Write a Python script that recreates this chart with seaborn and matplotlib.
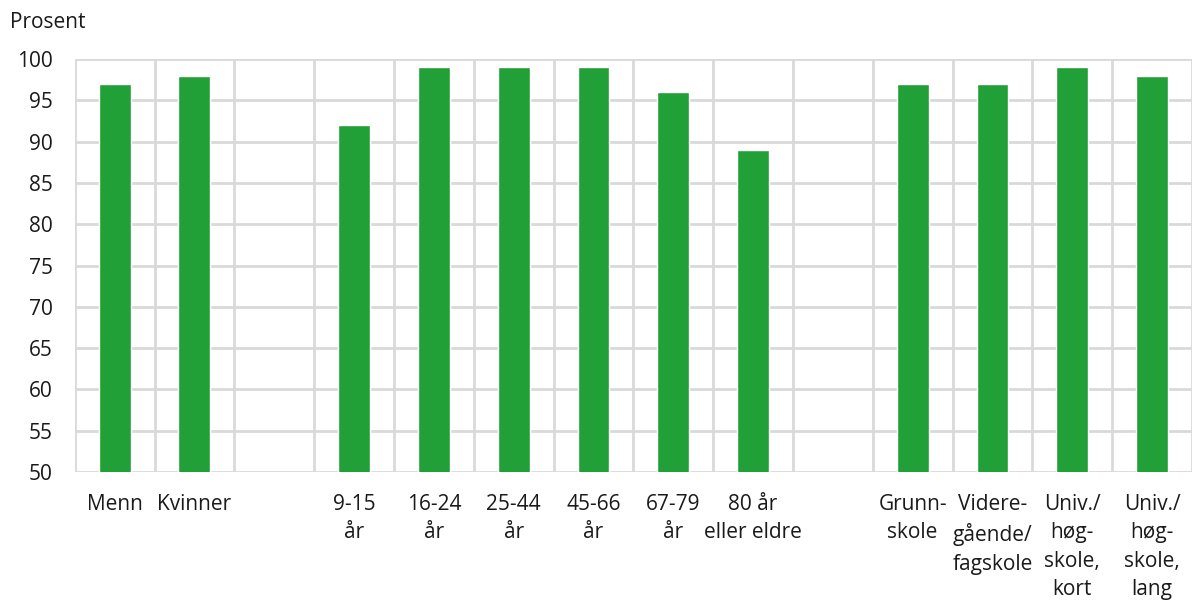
import numpy as np
import pandas as pd
import matplotlib
matplotlib.use("Agg")
import matplotlib.pyplot as plt
import seaborn as sns

# Categories (two empty slots separate the groups)
keys = ["menn", "kvinner", "gap1", "9-15", "16-24", "25-44", "45-66", "67-79",
        "80+", "gap2", "grunn", "vgs", "univ_kort", "univ_lang"]
labels = ["Menn", "Kvinner", "", "9-15\når", "16-24\når", "25-44\når", "45-66\når",
          "67-79\når", "80 år\neller eldre", "", "Grunn-\nskole",
          "Videre-\ngående/\nfagskole", "Univ./\nhøg-\nskole,\nkort",
          "Univ./\nhøg-\nskole,\nlang"]
values = [97, 98, np.nan, 92, 99, 99, 99, 96, 89, np.nan, 97, 97, 99, 98]

df = pd.DataFrame({"kategori": keys, "prosent": values})

sns.set_theme(style="white")
plt.rcParams["font.family"] = ["Open Sans", "DejaVu Sans"]

fig = plt.figure(figsize=(11.92, 6.01), dpi=100)
ax = fig.add_axes([0.0627, 0.2146, 0.9373, 0.6872])

sns.barplot(data=df, x="kategori", y="prosent", order=keys, color="#21a038",
            saturation=1, width=0.4, ax=ax)

ax.set_ylim(50, 100)
ax.set_yticks(range(50, 101, 5))
ax.set_xlim(-0.5, 13.404)
ax.set_xticks(range(len(keys)))
ax.set_xticklabels(labels, linespacing=1.45, va="top")
ax.set_xticks(np.arange(-0.5, 14, 1), minor=True)

ax.set_axisbelow(True)
ax.grid(axis="y", which="major", color="#d9d9d9", linewidth=2)
ax.grid(axis="x", which="minor", color="#d9d9d9", linewidth=2)
ax.grid(axis="x", which="major", visible=False)
for s in ax.spines.values():
    s.set_visible(False)

ax.tick_params(axis="both", which="both", length=0, labelsize=15, colors="#1a1a1a")
ax.tick_params(axis="x", pad=16)
ax.tick_params(axis="y", pad=16)
ax.set_xlabel("")
ax.set_ylabel("")

fig.text(0.008, 0.962, "Prosent", fontsize=15, color="#1a1a1a", va="center")

fig.savefig("out.png", dpi=100, facecolor="white")
